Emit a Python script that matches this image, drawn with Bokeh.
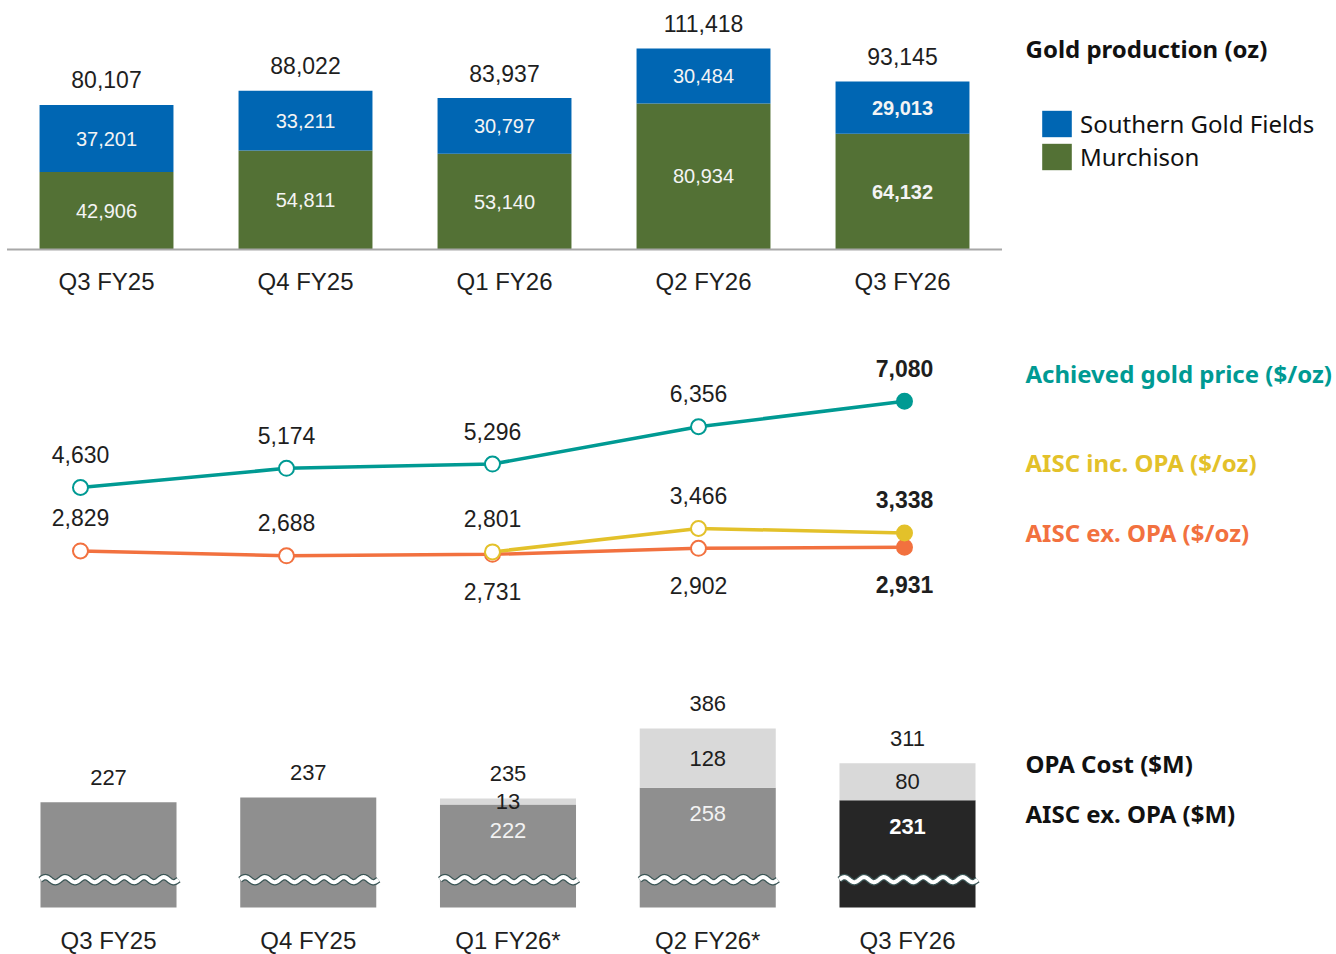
import numpy as np
from bokeh.plotting import figure
from bokeh.models import ColumnDataSource, Label, Legend, LegendItem, Range1d
from bokeh.layouts import column
from bokeh.core.properties import value
from bokeh.embed import file_html
from bokeh.resources import INLINE

# ---------------- data ----------------
quarters_top = ["Q3 FY25", "Q4 FY25", "Q1 FY26", "Q2 FY26", "Q3 FY26"]
quarters_bottom = ["Q3 FY25", "Q4 FY25", "Q1 FY26*", "Q2 FY26*", "Q3 FY26"]
murchison_oz = [42906, 54811, 53140, 80934, 64132]
southern_oz = [37201, 33211, 30797, 30484, 29013]
gold_price = [4630, 5174, 5296, 6356, 7080]
aisc_inc_opa = [None, None, 2801, 3466, 3338]
aisc_ex_opa = [2829, 2688, 2731, 2902, 2931]
aisc_ex_opa_m = [227, 237, 222, 258, 231]
opa_cost_m = [0, 0, 13, 128, 80]

# ---------------- styles ----------------
BLUE = "#0066B3"
GREEN = "#537135"
TEAL = "#009A93"
YELLOW = "#E3C12A"
ORANGE = "#F2713F"
GREY = "#8F8F8F"
LIGHT = "#D9D9D9"
DARK = "#262626"
TXT = "#1E1E1E"
NUM_FONT = value("Liberation Sans")
HEAD_FONT = "Noto Sans"
W = 1336
HEAD_X = 1025


def make_fig(h, xr, yr):
    p = figure(width=W, height=h, x_range=Range1d(*xr), y_range=Range1d(*yr),
               output_backend="svg", toolbar_location=None, min_border=0,
               x_axis_location=None, y_axis_location=None)
    p.grid.visible = False
    p.outline_line_color = None
    return p


def fmt(v):
    return f"{v:,}"


n = len(quarters_top)
idx = list(range(n))
last_style = ["normal"] * (n - 1) + ["bold"]

# ================= TOP: gold production =================
top_tot = [a + b for a, b in zip(murchison_oz, southern_oz)]
p1 = make_fig(300, (-0.5327, 6.1809), (-28269, 138021))
src1 = ColumnDataSource(dict(
    x=idx, m=murchison_oz, t=top_tot,
    m_mid=[v / 2 for v in murchison_oz],
    s_mid=[m + s / 2 for m, s in zip(murchison_oz, southern_oz)],
    m_lab=[fmt(v) for v in murchison_oz],
    s_lab=[fmt(v) for v in southern_oz],
    t_lab=[fmt(v) for v in top_tot],
    cat=quarters_top, style=last_style, zero=[0] * n,
))
r_m = p1.vbar(x="x", width=0.673, bottom=0, top="m", source=src1,
              fill_color=GREEN, line_color=None)
r_s = p1.vbar(x="x", width=0.673, bottom="m", top="t", source=src1,
              fill_color=BLUE, line_color=None)
p1.segment(x0=-0.5, x1=4.5, y0=0, y1=0, line_color="#A8A8A8", line_width=2)
p1.text(x="x", y="m_mid", text="m_lab", source=src1, text_align="center",
        text_baseline="middle", text_color="#F4F4F4", text_font=NUM_FONT,
        text_font_size="20px", text_font_style="style")
p1.text(x="x", y="s_mid", text="s_lab", source=src1, text_align="center",
        text_baseline="middle", text_color="#F4F4F4", text_font=NUM_FONT,
        text_font_size="20px", text_font_style="style")
p1.text(x="x", y="t", text="t_lab", source=src1, text_align="center",
        text_baseline="middle", y_offset=-25, text_color=TXT, text_font=NUM_FONT,
        text_font_size="23px")
p1.text(x="x", y="zero", text="cat", source=src1, text_align="center",
        text_baseline="middle", y_offset=32, text_color=TXT, text_font=NUM_FONT,
        text_font_size="24px")
p1.add_layout(Label(x=HEAD_X, y=252, x_units="screen", y_units="screen",
                    text="Gold production (oz)", text_font=HEAD_FONT,
                    text_font_style="bold", text_font_size="24px",
                    text_color="#111111", text_baseline="middle"))
legend = Legend(items=[LegendItem(label="Southern Gold Fields", renderers=[r_s]),
                       LegendItem(label="Murchison", renderers=[r_m])],
                location=(1038, 127), glyph_width=37, glyph_height=33,
                label_text_font=HEAD_FONT, label_text_font_size="24px",
                label_text_color="#111111", padding=0, margin=0, spacing=0,
                label_standoff=5, border_line_color=None,
                background_fill_alpha=0)
p1.add_layout(legend)

# ================= MIDDLE: prices =================
p2 = make_fig(340, (-0.3883, 6.0971), (283.4, 9942.5))
inc_arr = np.array([np.nan if v is None else v for v in aisc_inc_opa], dtype=float)


def fills(color):
    return [color if i == n - 1 else "white" for i in range(n)]


p2.line(idx, aisc_ex_opa, line_color=ORANGE, line_width=3.5)
p2.line(idx, inc_arr, line_color=YELLOW, line_width=3.5)
p2.line(idx, gold_price, line_color=TEAL, line_width=3.5)
p2.scatter(idx, aisc_ex_opa, marker="circle", size=15, fill_color=fills(ORANGE),
           line_color=ORANGE, line_width=2)
inc_i = [i for i in idx if aisc_inc_opa[i] is not None]
p2.scatter(inc_i, [aisc_inc_opa[i] for i in inc_i], marker="circle", size=15,
           fill_color=["white" if i < n - 1 else YELLOW for i in inc_i],
           line_color=YELLOW, line_width=2)
p2.scatter(idx, gold_price, marker="circle", size=15, fill_color=fills(TEAL),
           line_color=TEAL, line_width=2)

g_src = ColumnDataSource(dict(x=idx, y=gold_price, t=[fmt(v) for v in gold_price],
                              style=last_style))
p2.text(x="x", y="y", text="t", source=g_src, y_offset=-33, text_align="center",
        text_baseline="middle", text_color=TXT, text_font=NUM_FONT,
        text_font_size="23px", text_font_style="style")
i_src = ColumnDataSource(dict(x=inc_i, y=[aisc_inc_opa[i] for i in inc_i],
                              t=[fmt(aisc_inc_opa[i]) for i in inc_i],
                              style=[last_style[i] for i in inc_i]))
p2.text(x="x", y="y", text="t", source=i_src, y_offset=-33, text_align="center",
        text_baseline="middle", text_color=TXT, text_font=NUM_FONT,
        text_font_size="23px", text_font_style="style")
e_src = ColumnDataSource(dict(x=idx, y=aisc_ex_opa, t=[fmt(v) for v in aisc_ex_opa],
                              style=last_style,
                              off=[37 if aisc_inc_opa[i] is not None else -33 for i in idx]))
p2.text(x="x", y="y", text="t", source=e_src, y_offset="off", text_align="center",
        text_baseline="middle", text_color=TXT, text_font=NUM_FONT,
        text_font_size="23px", text_font_style="style")
for txt, ys, col in [("Achieved gold price ($/oz)", 267, TEAL),
                     ("AISC inc. OPA ($/oz)", 178, YELLOW),
                     ("AISC ex. OPA ($/oz)", 108, ORANGE)]:
    p2.add_layout(Label(x=HEAD_X, y=ys, x_units="screen", y_units="screen", text=txt,
                        text_font=HEAD_FONT, text_font_style="bold",
                        text_font_size="24px", text_color=col,
                        text_baseline="middle"))

# ================= BOTTOM: costs =================
p3 = make_fig(314, (-0.5407, 6.1477), (-101.3, 575.4))
cost_tot = [a + b for a, b in zip(aisc_ex_opa_m, opa_cost_m)]
BW = 0.681
src3 = ColumnDataSource(dict(
    x=idx, lo=aisc_ex_opa_m, hi=cost_tot,
    col=[GREY] * (n - 1) + [DARK],
    tot=[str(v) for v in cost_tot], cat=quarters_bottom, zero=[0] * n,
))
p3.vbar(x="x", width=BW, bottom=0, top="lo", source=src3, fill_color="col",
        line_color=None)
p3.vbar(x="x", width=BW, bottom="lo", top="hi", source=src3, fill_color=LIGHT,
        line_color=None)
# decorative axis-break waves
t = np.linspace(0, 1, 160)
wave_xs = [list(i - BW / 2 + t * (BW + 0.01)) for i in idx]
wave_ys = [list(60 + 5.5 * np.sin(2 * np.pi * 7 * t)) for _ in idx]
p3.multi_line(wave_xs, wave_ys, line_color="#3B5656", line_width=6.5)
p3.multi_line(wave_xs, wave_ys, line_color="white", line_width=4)

p3.text(x="x", y="hi", text="tot", source=src3, y_offset=-25, text_align="center",
        text_baseline="middle", text_color=TXT, text_font=NUM_FONT,
        text_font_size="22px")
p3.text(x="x", y="zero", text="cat", source=src3, y_offset=33, text_align="center",
        text_baseline="middle", text_color=TXT, text_font=NUM_FONT,
        text_font_size="24px")
opa_i = [i for i in idx if opa_cost_m[i] > 0]
up_src = ColumnDataSource(dict(
    x=opa_i, y=[aisc_ex_opa_m[i] + opa_cost_m[i] / 2 for i in opa_i],
    t=[str(opa_cost_m[i]) for i in opa_i]))
p3.text(x="x", y="y", text="t", source=up_src, text_align="center",
        text_baseline="middle", text_color=TXT, text_font=NUM_FONT,
        text_font_size="22px")
lo_src = ColumnDataSource(dict(
    x=opa_i, y=[aisc_ex_opa_m[i] for i in opa_i],
    t=[str(aisc_ex_opa_m[i]) for i in opa_i],
    c=["#F2F2F2" if i < n - 1 else "#FFFFFF" for i in opa_i],
    style=[last_style[i] for i in opa_i]))
p3.text(x="x", y="y", text="t", source=lo_src, y_offset=26, text_align="center",
        text_baseline="middle", text_color="c", text_font=NUM_FONT,
        text_font_size="22px", text_font_style="style")
for txt, ys in [("OPA Cost ($M)", 191), ("AISC ex. OPA ($M)", 141)]:
    p3.add_layout(Label(x=HEAD_X, y=ys, x_units="screen", y_units="screen", text=txt,
                        text_font=HEAD_FONT, text_font_style="bold",
                        text_font_size="24px", text_color="#111111",
                        text_baseline="middle"))

layout = column(p1, p2, p3, spacing=0)
open("out.html", "w").write(file_html(layout, INLINE))
